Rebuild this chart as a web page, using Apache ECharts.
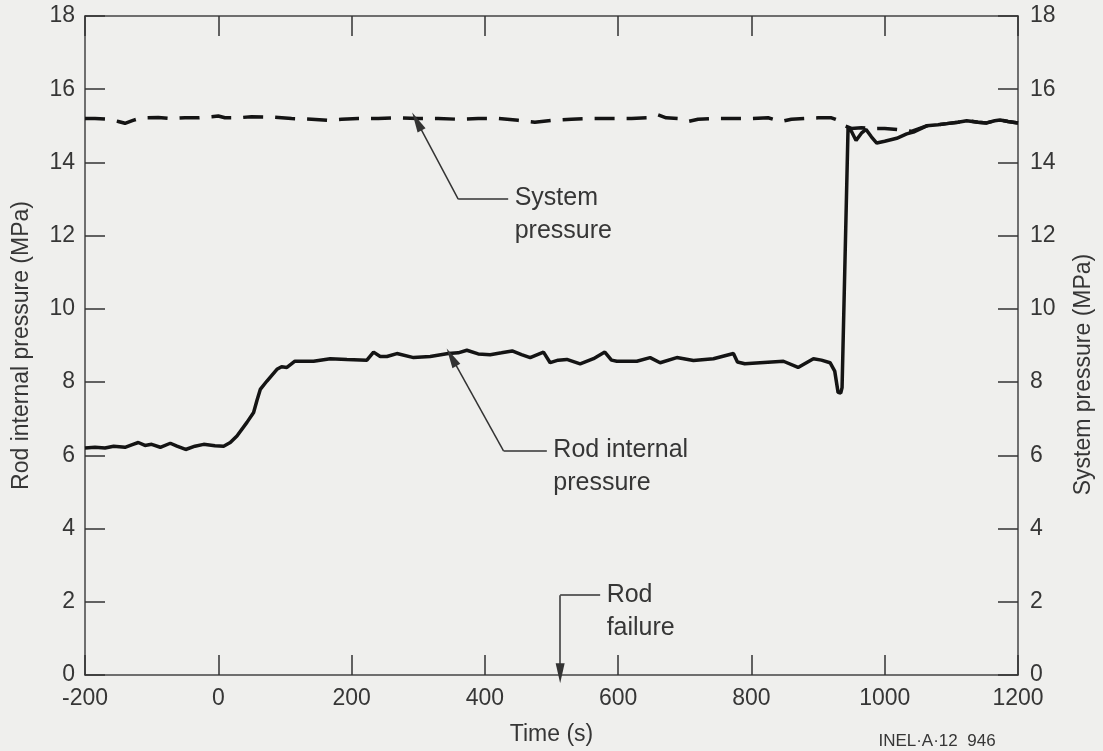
<!DOCTYPE html>
<html>
<head>
<meta charset="utf-8">
<script src="https://cdn.jsdelivr.net/npm/echarts@6/dist/echarts.min.js"></script>
<style>
  html, body { margin: 0; padding: 0; background: #efefed; }
  #chart { width: 1103px; height: 751px; }
</style>
</head>
<body>
<div id="chart"></div>
<script>
// rod internal pressure (solid trace)
var rodTime = [-200, -185, -170, -157, -140, -128, -120, -110, -100, -87, -72, -62, -49, -35, -22, -5, 8, 18, 28, 43,
  53, 58, 63, 73, 88, 95, 103, 115, 143, 168, 193, 223, 233, 243, 253, 268, 293, 318, 345, 360,
  373, 390, 408, 425, 441, 455, 468, 488, 498, 510, 523, 543, 563, 580, 590, 598, 628, 648, 663, 688,
  713, 743, 773, 779, 790, 813, 848, 870, 893, 905, 918, 925, 930, 934, 936, 945, 950, 957, 965, 972,
  980, 988, 1000, 1018, 1033, 1043, 1063, 1080, 1093, 1110, 1123, 1140, 1153, 1165, 1173, 1185, 1200];
var rodPressure = [6.2, 6.22, 6.2, 6.25, 6.22, 6.3, 6.35, 6.27, 6.3, 6.22, 6.33, 6.25, 6.16, 6.25, 6.3, 6.26, 6.25, 6.35, 6.53, 6.9,
  7.17, 7.5, 7.8, 8.03, 8.35, 8.42, 8.4, 8.57, 8.57, 8.64, 8.62, 8.6, 8.82, 8.7, 8.7, 8.78, 8.67, 8.7, 8.78, 8.8,
  8.87, 8.77, 8.75, 8.8, 8.85, 8.75, 8.67, 8.82, 8.53, 8.6, 8.62, 8.5, 8.64, 8.82, 8.6, 8.57, 8.57, 8.67, 8.53, 8.67,
  8.59, 8.64, 8.78, 8.55, 8.5, 8.53, 8.57, 8.4, 8.64, 8.6, 8.53, 8.3, 7.72, 7.7, 7.85, 14.95, 14.85, 14.6, 14.8, 14.9,
  14.7, 14.53, 14.58, 14.66, 14.78, 14.83, 15.0, 15.03, 15.06, 15.1, 15.14, 15.1, 15.08, 15.14, 15.16, 15.12, 15.08];

// system pressure (dashed trace)
var sysTime = [-200, -185, -165, -150, -140, -128, -115, -90, -70, -50, -30, -10, 0, 10, 30, 50, 80, 110, 140, 165,
  185, 210, 240, 270, 300, 330, 360, 390, 420, 450, 475, 500, 530, 560, 590, 620, 645, 660, 672, 690,
  705, 720, 745, 775, 800, 825, 845, 860, 880, 900, 920, 930, 940, 950, 965, 980, 1000, 1020, 1040, 1063,
  1080, 1093, 1110, 1123, 1140, 1153, 1165, 1173, 1185, 1200];
var sysPressure = [15.2, 15.2, 15.18, 15.12, 15.07, 15.15, 15.22, 15.23, 15.2, 15.22, 15.22, 15.25, 15.27, 15.22, 15.22, 15.25, 15.24, 15.2, 15.18, 15.15,
  15.18, 15.2, 15.2, 15.22, 15.2, 15.2, 15.18, 15.2, 15.2, 15.15, 15.1, 15.15, 15.18, 15.2, 15.2, 15.2, 15.22, 15.3, 15.22, 15.2,
  15.12, 15.18, 15.2, 15.2, 15.2, 15.22, 15.12, 15.18, 15.2, 15.22, 15.22, 15.15, 15.0, 14.93, 14.95, 14.92, 14.93, 14.9, 14.85, 15.0,
  15.03, 15.06, 15.1, 15.14, 15.1, 15.08, 15.14, 15.16, 15.12, 15.08];

var font = "'Liberation Sans', Arial, sans-serif";
var textColor = '#363636';
var inkColor = '#141414';

function pairs(xs, ys) {
  return xs.map(function (x, i) { return [x, ys[i]]; });
}

// leader line with a wedge at the start (data coords)
function leader(from, to, arrow) {
  return [
    { coord: from, symbol: arrow ? 'triangle' : 'none', symbolSize: arrow ? [9, 20] : 0 },
    { coord: to, symbol: 'none' }
  ];
}
function note(at, text) {
  return { coord: at, label: { formatter: text } };
}

var timeAxis = {
  type: 'value', min: -200, max: 1200, interval: 200,
  axisLine: { onZero: false, lineStyle: { color: '#444', width: 1.5 } },
  axisTick: { inside: true, length: 20, lineStyle: { color: '#333', width: 1.5 } },
  splitLine: { show: false }
};
var pressAxis = {
  type: 'value', min: 0, max: 18, interval: 2,
  axisLine: { show: true, onZero: false, lineStyle: { color: '#444', width: 1.5 } },
  axisTick: { show: true, inside: true, length: 20, lineStyle: { color: '#333', width: 1.5 } },
  splitLine: { show: false },
  axisLabel: { color: textColor, fontSize: 23, fontFamily: font, margin: 10 },
  nameLocation: 'middle',
  nameTextStyle: { color: textColor, fontSize: 23, fontFamily: font }
};

var myChart = echarts.init(document.getElementById('chart'));
var option = {
  backgroundColor: '#efefed',
  animation: false,
  grid: { left: 85, right: 85, top: 16, bottom: 75 },
  xAxis: [
    Object.assign({}, timeAxis, {
      position: 'bottom',
      axisLabel: {
        color: textColor, fontSize: 23, fontFamily: font, margin: 12,
        formatter: function (v) { return String(v); }
      },
      name: 'Time (s)', nameLocation: 'middle', nameGap: 48,
      nameTextStyle: { color: textColor, fontSize: 23, fontFamily: font }
    }),
    Object.assign({}, timeAxis, { position: 'top', axisLabel: { show: false } })
  ],
  yAxis: [
    Object.assign({}, pressAxis, {
      position: 'left', name: 'Rod internal pressure (MPa)', nameGap: 52
    }),
    Object.assign({}, pressAxis, {
      position: 'right', name: 'System pressure (MPa)', nameGap: 54,
      axisLabel: { color: textColor, fontSize: 23, fontFamily: font, margin: 12 },
      nameTextStyle: { color: textColor, fontSize: 23, fontFamily: font, padding: [0, 58, 0, 0] }
    })
  ],
  series: [
    {
      name: 'System pressure',
      type: 'line',
      xAxisIndex: 0, yAxisIndex: 1,
      data: pairs(sysTime, sysPressure),
      showSymbol: false,
      lineStyle: { color: inkColor, width: 3.5, type: [20, 12] }
    },
    {
      name: 'Rod internal pressure',
      type: 'line',
      xAxisIndex: 0, yAxisIndex: 0,
      data: pairs(rodTime, rodPressure),
      showSymbol: false,
      lineStyle: { color: inkColor, width: 3.5 },
      markLine: {
        silent: true,
        label: { show: false },
        lineStyle: { color: '#333', width: 1.5, type: 'solid' },
        itemStyle: { color: '#111' },
        data: [
          leader([298, 15.12], [360, 13.0], true),
          leader([360, 13.0], [435, 13.0], false),
          leader([350, 8.68], [428, 6.12], true),
          leader([428, 6.12], [493, 6.12], false),
          leader([513, 0.05], [513, 2.18], true),
          leader([513, 2.18], [573, 2.18], false)
        ]
      },
      markPoint: {
        silent: true,
        symbol: 'circle',
        symbolSize: 1,
        itemStyle: { color: 'transparent' },
        label: {
          show: true, position: 'right', distance: 6,
          color: textColor, fontSize: 25, fontFamily: font,
          lineHeight: 33, align: 'left', offset: [0, 16]
        },
        data: [
          note([435, 13.0], 'System\npressure'),
          note([493, 6.12], 'Rod internal\npressure'),
          note([573, 2.18], 'Rod\nfailure')
        ]
      }
    }
  ],
  graphic: [
    {
      type: 'text', x: 937, y: 741,
      style: {
        text: 'INEL·A·12  946', fill: textColor, fontSize: 17, fontFamily: font,
        textAlign: 'center', textVerticalAlign: 'middle'
      }
    }
  ]
};

window.onresize = myChart.resize;
myChart.setOption(option);
</script>
</body>
</html>
